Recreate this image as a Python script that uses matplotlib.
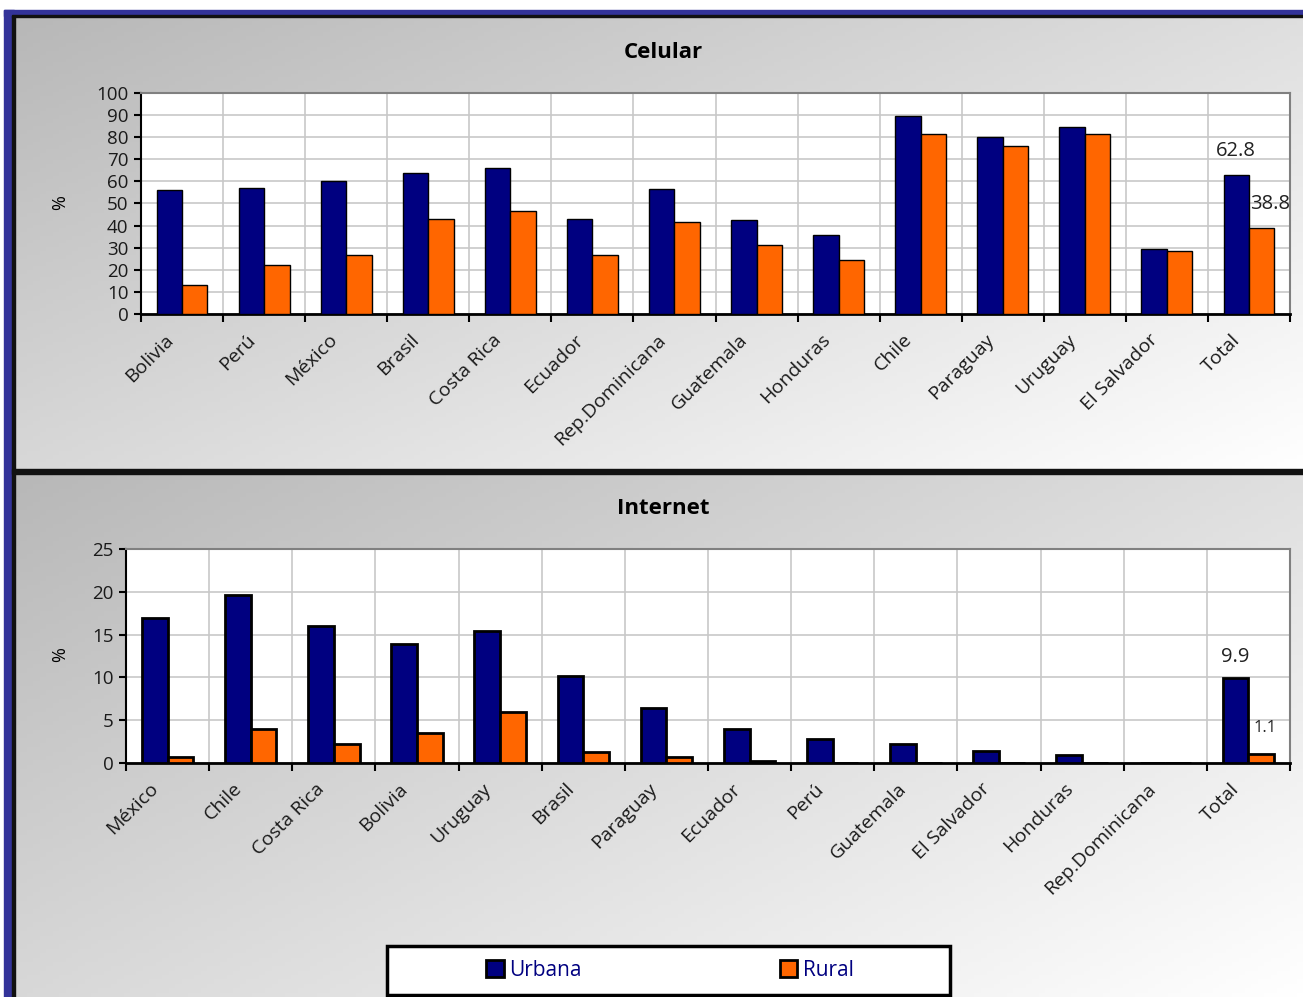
"""
Acceso a celular e internet, zonas urbanas y rurales
"""
import matplotlib
matplotlib.use('Agg')
import matplotlib.pyplot as plt
from matplotlib.patches import Rectangle
import numpy as np

plt.rcParams['font.family'] = ['Open Sans', 'DejaVu Sans']

# ============================================================================
# DATA
# ============================================================================
cel_paises = ['Bolivia', 'Perú', 'México', 'Brasil', 'Costa Rica', 'Ecuador',
              'Rep.Dominicana', 'Guatemala', 'Honduras', 'Chile', 'Paraguay',
              'Uruguay', 'El Salvador', 'Total']
cel_urbana = [56.1, 57.0, 60.4, 63.7, 66.2, 43.2, 56.4, 42.5, 35.9, 89.6,
              80.2, 84.7, 29.4, 62.8]
cel_rural = [13.0, 22.0, 26.9, 43.2, 46.5, 26.9, 41.5, 31.0, 24.5, 81.4,
             76.0, 81.4, 28.5, 38.8]

int_paises = ['México', 'Chile', 'Costa Rica', 'Bolivia', 'Uruguay', 'Brasil',
              'Paraguay', 'Ecuador', 'Perú', 'Guatemala', 'El Salvador',
              'Honduras', 'Rep.Dominicana', 'Total']
int_urbana = [16.9, 19.6, 16.0, 13.9, 15.4, 10.2, 6.4, 4.0, 2.8, 2.2, 1.4,
              0.9, 0.0, 9.9]
int_rural = [0.7, 4.0, 2.2, 3.5, 6.0, 1.3, 0.7, 0.2, 0.0, 0.0, 0.0, 0.0,
             0.0, 1.1]

URBANA_COLOR = '#000080'
RURAL_COLOR = '#ff6600'
W, H = 1303, 997


def fig_box(x0, y0, x1, y1):
    """Pixel box (from top-left) to figure fraction rect."""
    return [x0 / W, 1 - y1 / H, (x1 - x0) / W, (y1 - y0) / H]


def gradient_panel(fig, box):
    bg = fig.add_axes(fig_box(*box), zorder=-5)
    nx, ny = 200, 120
    xx, yy = np.meshgrid(np.linspace(0, 1, nx), np.linspace(0, 1, ny))
    t = np.clip(0.55 * xx + 0.45 * yy, 0, 1)
    val = 0.72 + 0.28 * t
    img = np.dstack([val, val, val])
    bg.imshow(img, aspect='auto', extent=[0, 1, 0, 1], origin='upper')
    bg.set_axis_off()
    return bg


def bar_panel(ax, paises, urb, rur, ymax, ystep, lw, total_labels, label_pos,
              small_size):
    n = len(paises)
    x = np.arange(n)
    bw = 0.31
    ax.bar(x - bw / 2, urb, bw, color=URBANA_COLOR, edgecolor='black',
           linewidth=lw, label='Urbana', zorder=3)
    ax.bar(x + bw / 2, rur, bw, color=RURAL_COLOR, edgecolor='black',
           linewidth=lw, label='Rural', zorder=3)

    ax.set_xlim(-0.5, n - 0.5)
    ax.set_ylim(0, ymax)
    ax.set_yticks(np.arange(0, ymax + 0.1, ystep))
    ax.set_xticks(x - 0.22)
    ax.set_xticklabels(paises, rotation=45, ha='right', rotation_mode='anchor',
                       fontsize=14, color='#1a1a1a')
    ax.set_xticks(np.arange(-0.5, n, 1.0), minor=True)
    ax.tick_params(axis='x', which='major', length=0, pad=12)
    ax.tick_params(axis='x', which='minor', length=6, width=1.5, direction='out')
    ax.tick_params(axis='y', length=5, width=1.5, labelsize=13.5,
                   direction='out', labelcolor='#1a1a1a', pad=4)

    ax.grid(axis='y', which='major', color='#c8c8c8', lw=1.2, zorder=0)
    ax.grid(axis='x', which='minor', color='#c8c8c8', lw=1.2, zorder=0)
    ax.set_axisbelow(True)
    ax.set_facecolor('white')
    ax.spines['bottom'].set_linewidth(2)
    ax.spines['left'].set_linewidth(1.5)
    for s in ['top', 'right']:
        ax.spines[s].set_color('#808080')
        ax.spines[s].set_linewidth(1.5)

    # etiquetas del total
    (ux, uy), (rx, ry) = label_pos
    ax.text(n - 1 - bw / 2 + ux, total_labels[0] + uy, f'{total_labels[0]:.1f}',
            ha='center', va='bottom', fontsize=14.5, color='#222222', zorder=5)
    ax.text(n - 1 + bw / 2 + rx, total_labels[1] + ry, f'{total_labels[1]:.1f}',
            ha='center', va='bottom', fontsize=small_size,
            color='#222222', zorder=5)


def main():
    fig = plt.figure(figsize=(W / 100, H / 100), dpi=100)
    fig.patch.set_facecolor('white')

    # fondos degradados de los dos paneles
    gradient_panel(fig, (14, 17, W, 470))
    gradient_panel(fig, (14, 472, W, H))

    # bordes
    fig.patches.append(Rectangle((4 / W, 0), 10 / W, 1 - 10 / H,
                                 transform=fig.transFigure, color='#333399',
                                 zorder=-1))
    fig.patches.append(Rectangle((4 / W, 1 - 16 / H), 1 - 4 / W, 6 / H,
                                 transform=fig.transFigure, color='#333399',
                                 zorder=-1))
    fig.patches.append(Rectangle((12 / W, 1 - 17 / H), 1, 2 / H,
                                 transform=fig.transFigure, color='#111111',
                                 zorder=-1))
    fig.patches.append(Rectangle((12 / W, 1 - 474 / H), 1, 5 / H,
                                 transform=fig.transFigure, color='#111111',
                                 zorder=-1))
    fig.patches.append(Rectangle((12 / W, 0), 2.5 / W, 1 - 16 / H,
                                 transform=fig.transFigure, color='#111111',
                                 zorder=-1))

    # Celular
    ax1 = fig.add_axes(fig_box(141, 93, 1290, 314))
    bar_panel(ax1, cel_paises, cel_urbana, cel_rural, 100, 10, 1.0,
              (62.8, 38.8), ((0.0, 6.5), (0.1, 6.5)), 14.5)
    fig.text(663 / W, 1 - 52 / H, 'Celular', ha='center', va='center',
             fontsize=16, fontweight='bold')
    fig.text(60 / W, 1 - 203 / H, '%', ha='center', va='center',
             rotation=90, fontsize=13)

    # Internet
    ax2 = fig.add_axes(fig_box(126, 549, 1290, 763))
    bar_panel(ax2, int_paises, int_urbana, int_rural, 25, 5, 2.0,
              (9.9, 1.1), ((0.0, 1.35), (0.05, 2.0)), 12)
    fig.text(663 / W, 1 - 508 / H, 'Internet', ha='center', va='center',
             fontsize=16, fontweight='bold')
    fig.text(60 / W, 1 - 655 / H, '%', ha='center', va='center',
             rotation=90, fontsize=13)

    # leyenda
    fig.patches.append(Rectangle((387 / W, 1 - 995 / H), 563 / W, 49 / H,
                                 transform=fig.transFigure, facecolor='white',
                                 edgecolor='black', linewidth=2.5, zorder=2))
    handles, labels = ax1.get_legend_handles_labels()
    leg = fig.legend(handles, labels, loc='center', ncol=2,
                     bbox_to_anchor=(670 / W, 1 - 970 / H),
                     frameon=False, fontsize=15, handlelength=0.85,
                     handleheight=0.85, handletextpad=0.25, columnspacing=9.5)
    leg.set_zorder(3)
    for t in leg.get_texts():
        t.set_color('#000080')
    for p in leg.get_patches():
        p.set_linewidth(2)

    plt.savefig('out.png', dpi=100)


if __name__ == '__main__':
    main()
